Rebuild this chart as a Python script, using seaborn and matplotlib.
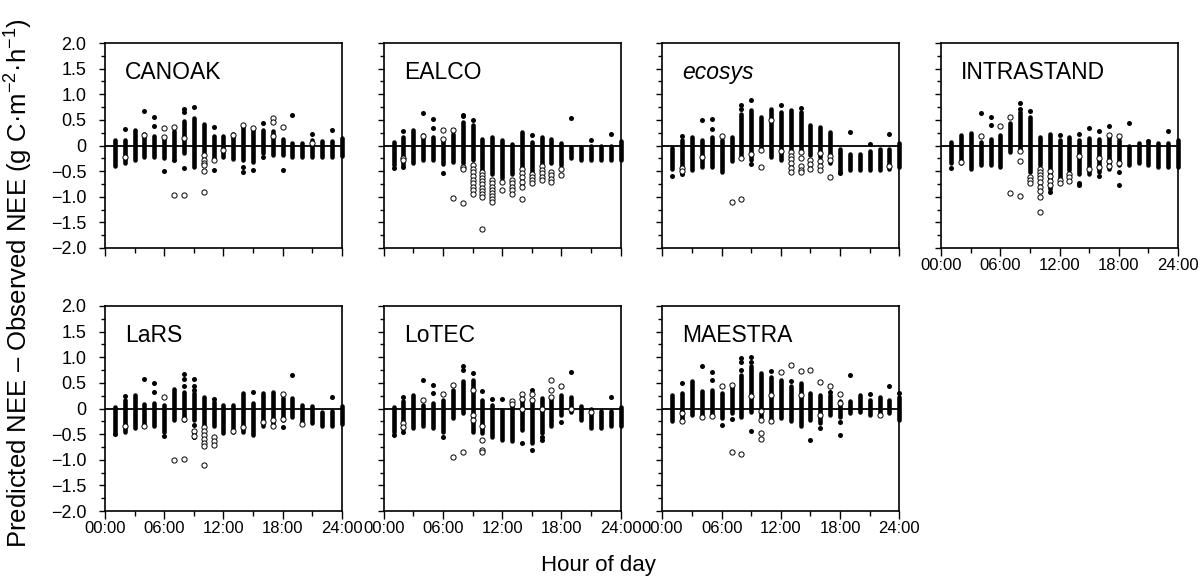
import pandas as pd
import matplotlib
matplotlib.use("Agg")
import matplotlib.pyplot as plt
from matplotlib.ticker import FixedLocator, MultipleLocator
import seaborn as sns

# panels, in reading order
models = ["CANOAK", "EALCO", "ecosys", "INTRASTAND", "LaRS", "LoTEC", "MAESTRA"]
hours = list(range(1, 25))

x_ticks = [0, 6, 12, 18, 24]
x_tick_labels = ["00:00", "06:00", "12:00", "18:00", "24:00"]
y_ticks = [-2.0, -1.5, -1.0, -0.5, 0.0, 0.5, 1.0, 1.5, 2.0]
y_tick_labels = ["\u22122.0", "\u22121.5", "\u22121.0", "\u22120.5", "0", "0.5", "1.0", "1.5", "2.0"]

# dense column of filled symbols per hour (top / bottom), plus the loose symbols
canoak_hi = [0.10, 0.10, 0.30, 0.22, 0.18, 0.14, 0.28, 0.48, 0.53, 0.42, 0.18, 0.18,
             0.22, 0.38, 0.33, 0.30, 0.28, 0.13, 0.05, 0.05, 0.10, 0.08, 0.08, 0.15]
canoak_lo = [-0.40, -0.35, -0.28, -0.22, -0.23, -0.25, -0.25, -0.15, -0.42, -0.12, -0.25, -0.22,
             -0.27, -0.28, -0.33, -0.15, -0.19, -0.19, -0.22, -0.22, -0.22, -0.22, -0.22, -0.20]
canoak_filled = [(2, 0.33), (4, 0.68), (5, 0.55), (5, 0.38), (6, -0.49), (7, -0.29), (8, 0.72),
                 (8, 0.66), (8, -0.44), (9, 0.75), (11, 0.36), (11, -0.47), (14, -0.42), (14, -0.52),
                 (15, -0.47), (16, 0.43), (16, -0.23), (18, -0.48), (19, 0.60), (21, 0.22), (23, 0.30)]
canoak_open = [(2, -0.23), (4, 0.21), (6, 0.34), (6, 0.16), (7, 0.36), (7, -0.97), (8, 0.15),
               (8, -0.97), (10, -0.19), (10, -0.29), (10, -0.34), (10, -0.39), (10, -0.50),
               (10, -0.90), (11, -0.29), (12, -0.08), (13, 0.21), (14, 0.40), (15, 0.34),
               (17, 0.54), (17, 0.46), (17, 0.19), (18, 0.36), (21, 0.05)]

ealco_hi = [0.07, 0.17, 0.30, 0.20, 0.17, 0.10, 0.23, 0.46, 0.40, 0.12, 0.17, 0.10,
            0.02, 0.27, 0.07, 0.17, 0.12, 0.04, -0.03, -0.02, 0.0, 0.0, 0.0, 0.08]
ealco_lo = [-0.38, -0.38, -0.34, -0.29, -0.29, -0.36, -0.33, -0.35, -0.29, -0.48, -0.55, -0.64,
            -0.55, -0.42, -0.51, -0.38, -0.35, -0.38, -0.25, -0.28, -0.28, -0.28, -0.28, -0.28]
ealco_filled = [(1, -0.44), (2, 0.29), (2, -0.42), (4, 0.64), (5, 0.51), (5, 0.35), (6, -0.53),
                (8, 0.59), (8, 0.57), (9, 0.50), (15, 0.21), (19, 0.53), (21, 0.10), (23, 0.23)]
ealco_open = [(2, -0.25), (2, -0.28), (4, 0.19), (6, 0.31), (6, 0.12), (7, 0.31), (7, -1.03),
              (8, -0.42), (8, -0.45), (8, -1.13), (9, -0.38), (9, -0.45), (9, -0.52), (9, -0.60),
              (9, -0.67), (9, -0.74), (9, -0.80), (9, -0.87), (9, -0.94), (10, -0.52), (10, -0.58),
              (10, -0.64), (10, -0.70), (10, -0.76), (10, -0.82), (10, -0.88), (10, -0.94),
              (10, -1.00), (10, -1.62), (11, -0.68), (11, -0.74), (11, -0.80), (11, -0.86),
              (11, -0.92), (11, -0.98), (11, -1.04), (11, -1.10), (12, -0.72), (12, -0.87),
              (13, -0.68), (13, -0.74), (13, -0.80), (13, -0.87), (13, -0.94), (14, -0.46),
              (14, -0.54), (14, -0.62), (14, -0.72), (14, -0.80), (14, -1.05), (15, -0.55),
              (15, -0.62), (15, -0.68), (15, -0.74), (16, -0.40), (16, -0.47), (16, -0.54),
              (16, -0.62), (16, -0.68), (17, -0.52), (17, -0.58), (17, -0.65), (17, -0.71),
              (18, -0.46), (18, -0.58)]

ecosys_hi = [-0.04, 0.10, 0.17, 0.10, 0.17, 0.10, 0.17, 0.62, 0.69, 0.56, 0.72, 0.66,
             0.69, 0.66, 0.40, 0.36, 0.27, -0.06, -0.16, -0.16, -0.10, -0.06, -0.06, 0.04]
ecosys_lo = [-0.45, -0.51, -0.48, -0.42, -0.42, -0.51, -0.30, -0.19, -0.29, -0.03, -0.22, -0.29,
             -0.09, -0.09, -0.19, -0.22, -0.35, -0.51, -0.48, -0.48, -0.48, -0.48, -0.45, -0.42]
ecosys_filled = [(1, -0.60), (2, 0.19), (2, -0.56), (4, 0.49), (5, 0.51), (5, 0.33), (8, 0.79),
                 (8, 0.72), (9, 0.88), (9, -0.37), (12, 0.79), (14, 0.74), (18, -0.53), (19, 0.27),
                 (21, 0.03), (23, 0.23)]
ecosys_open = [(2, -0.43), (2, -0.49), (4, -0.22), (6, 0.18), (7, -1.11), (8, -0.24), (8, -1.05),
               (9, -0.16), (10, -0.09), (10, -0.42), (11, 0.49), (12, -0.10), (13, -0.12),
               (13, -0.20), (13, -0.27), (13, -0.35), (13, -0.43), (13, -0.51), (14, -0.12),
               (14, -0.25), (14, -0.40), (14, -0.47), (14, -0.51), (15, -0.29), (15, -0.37),
               (15, -0.45), (16, -0.15), (16, -0.30), (16, -0.40), (16, -0.47), (17, -0.20),
               (17, -0.28), (17, -0.61), (23, -0.40)]

intrastand_hi = [0.07, 0.20, 0.25, 0.07, 0.13, 0.20, 0.43, 0.66, 0.56, 0.17, 0.23, 0.10,
                 0.17, 0.10, 0.15, 0.13, 0.17, 0.10, 0.0, 0.04, 0.04, 0.04, 0.04, 0.10]
intrastand_lo = [-0.35, -0.35, -0.45, -0.38, -0.38, -0.42, -0.12, -0.09, -0.51, -0.38, -0.84, -0.64,
                 -0.48, -0.55, -0.55, -0.52, -0.45, -0.38, -0.38, -0.35, -0.38, -0.42, -0.42, -0.42]
intrastand_filled = [(1, -0.44), (4, 0.64), (5, 0.56), (5, 0.40), (8, 0.82), (8, 0.72), (9, 0.67),
                     (11, -0.90), (12, 0.20), (14, 0.22), (14, -0.73), (14, -0.78), (15, 0.35),
                     (16, 0.29), (16, -0.60), (17, 0.38), (18, -0.51), (18, -0.77), (19, 0.44),
                     (21, 0.09), (23, 0.29)]
intrastand_open = [(2, -0.33), (4, 0.19), (6, 0.38), (7, 0.56), (7, -0.92), (8, -0.10), (8, -0.30),
                   (8, -0.98), (9, -0.61), (9, -0.67), (9, -0.74), (10, -0.45), (10, -0.52),
                   (10, -0.58), (10, -0.64), (10, -0.72), (10, -0.80), (10, -0.88), (10, -1.00),
                   (10, -1.30), (11, -0.50), (11, -0.60), (11, -0.70), (11, -0.78), (12, -0.68),
                   (12, -0.74), (13, -0.55), (13, -0.62), (13, -0.70), (14, -0.20), (15, -0.45),
                   (16, -0.25), (16, -0.42), (17, 0.21), (17, -0.30), (17, -0.40), (18, 0.18),
                   (18, -0.35)]

lars_hi = [0.03, 0.17, 0.27, 0.08, 0.10, 0.07, 0.38, 0.33, 0.30, 0.23, 0.13, 0.07,
           0.07, 0.30, 0.10, 0.30, 0.33, 0.20, 0.20, 0.07, 0.05, -0.06, -0.05, 0.05]
lars_lo = [-0.45, -0.45, -0.38, -0.35, -0.35, -0.45, -0.22, -0.22, -0.22, -0.35, -0.35, -0.48,
           -0.45, -0.45, -0.51, -0.35, -0.29, -0.22, -0.16, -0.29, -0.29, -0.35, -0.35, -0.30]
lars_filled = [(1, -0.50), (2, 0.25), (4, 0.58), (5, 0.49), (5, 0.33), (6, -0.53), (8, 0.67),
               (8, 0.58), (8, 0.43), (9, 0.58), (9, 0.43), (9, 0.36), (9, -0.32), (9, -0.45),
               (9, -0.55), (11, 0.18), (15, 0.32), (18, -0.36), (19, 0.66), (23, 0.22)]
lars_open = [(2, -0.35), (4, -0.35), (6, 0.23), (7, -1.00), (8, -0.20), (8, -0.98), (9, -0.44),
             (9, -0.53), (10, -0.36), (10, -0.44), (10, -0.52), (10, -0.60), (10, -0.68),
             (10, -0.74), (10, -1.10), (11, -0.55), (11, -0.63), (11, -0.71), (13, -0.44),
             (14, -0.37), (16, -0.27), (17, -0.34), (17, -0.22), (18, 0.28), (18, -0.20),
             (20, -0.30)]

lotec_hi = [0.03, 0.14, 0.27, 0.07, 0.10, 0.17, 0.36, 0.53, 0.56, 0.17, 0.07, -0.03,
            0.14, 0.17, 0.17, 0.20, 0.23, 0.27, 0.23, 0.05, 0.0, -0.05, -0.05, 0.03]
lotec_lo = [-0.45, -0.40, -0.38, -0.35, -0.38, -0.45, -0.19, -0.09, -0.45, -0.48, -0.55, -0.61,
            -0.64, -0.42, -0.68, -0.48, -0.35, -0.12, -0.06, -0.22, -0.38, -0.38, -0.35, -0.35]
lotec_filled = [(1, -0.51), (2, 0.22), (2, -0.46), (4, 0.56), (5, 0.46), (5, 0.30), (6, -0.55),
                (8, 0.82), (8, 0.75), (9, 0.70), (10, 0.35), (11, 0.18), (12, 0.18), (14, -0.68),
                (15, 0.36), (15, -0.81), (16, -0.55), (16, -0.61), (18, -0.27), (19, 0.72),
                (23, 0.22)]
lotec_open = [(2, -0.28), (2, -0.36), (4, 0.17), (6, 0.29), (7, 0.46), (7, -0.95), (8, -0.85),
              (9, 0.36), (9, -0.13), (9, -0.22), (10, -0.35), (10, -0.61), (10, -0.81),
              (10, -0.84), (13, 0.14), (13, 0.08), (14, 0.28), (14, 0.18), (14, 0.0), (15, 0.28),
              (15, 0.17), (16, 0.0), (17, 0.56), (17, 0.36), (17, 0.23), (18, 0.44), (19, 0.0),
              (21, -0.06)]

maestra_hi = [0.27, 0.30, 0.53, 0.35, 0.36, 0.30, 0.43, 0.66, 0.82, 0.70, 0.62, 0.56,
              0.43, 0.49, 0.31, 0.27, 0.27, 0.14, 0.14, 0.27, 0.17, 0.23, 0.17, 0.23]
maestra_lo = [-0.25, -0.22, -0.12, -0.16, -0.12, -0.19, -0.09, -0.16, -0.06, -0.16, -0.25, -0.19,
              -0.25, -0.35, -0.22, -0.29, -0.12, -0.16, -0.09, -0.06, -0.12, -0.12, -0.09, -0.22]
maestra_filled = [(2, 0.49), (4, 0.83), (5, 0.72), (5, 0.56), (6, -0.32), (7, -0.21), (8, 0.98),
                  (8, 0.90), (8, 0.75), (9, 1.00), (9, 0.90), (9, -0.43), (11, 0.73), (13, 0.54),
                  (15, -0.62), (16, -0.38), (17, 0.33), (18, -0.27), (18, -0.51), (19, 0.66),
                  (21, 0.29), (23, 0.44), (24, 0.30)]
maestra_open = [(2, -0.09), (2, -0.25), (4, -0.16), (5, -0.14), (6, 0.43), (7, 0.46), (7, -0.85),
                (8, -0.88), (9, 0.25), (10, -0.05), (10, -0.22), (10, -0.47), (10, -0.60),
                (11, 0.27), (11, -0.25), (12, 0.72), (13, 0.84), (14, 0.73), (14, 0.27),
                (15, 0.75), (16, 0.51), (16, -0.12), (17, 0.43), (18, 0.28), (18, 0.10),
                (22, -0.12)]

panel_data = [
    ("CANOAK", canoak_hi, canoak_lo, canoak_filled, canoak_open),
    ("EALCO", ealco_hi, ealco_lo, ealco_filled, ealco_open),
    ("ecosys", ecosys_hi, ecosys_lo, ecosys_filled, ecosys_open),
    ("INTRASTAND", intrastand_hi, intrastand_lo, intrastand_filled, intrastand_open),
    ("LaRS", lars_hi, lars_lo, lars_filled, lars_open),
    ("LoTEC", lotec_hi, lotec_lo, lotec_filled, lotec_open),
    ("MAESTRA", maestra_hi, maestra_lo, maestra_filled, maestra_open),
]

# tables for seaborn
stack_frames = []
point_frames = []
for name, hi, lo, filled, opn in panel_data:
    stack_frames.append(pd.DataFrame({"model": name, "hour": hours, "lo": lo, "hi": hi}))
    f = pd.DataFrame(filled, columns=["hour", "value"])
    f["kind"] = "filled"
    o = pd.DataFrame(opn, columns=["hour", "value"])
    o["kind"] = "open"
    both = pd.concat([f, o])
    both["model"] = name
    point_frames.append(both)
stacks = pd.concat(stack_frames, ignore_index=True)
points = pd.concat(point_frames, ignore_index=True)

sns.set_theme(style="ticks", rc={
    "axes.edgecolor": "black", "axes.linewidth": 1.2,
    "xtick.color": "black", "ytick.color": "black",
    "text.color": "black", "axes.labelcolor": "black",
})
plt.rcParams["font.family"] = ["Liberation Sans", "DejaVu Sans"]
plt.rcParams["mathtext.fontset"] = "custom"
plt.rcParams["mathtext.rm"] = "Liberation Sans"
plt.rcParams["mathtext.default"] = "regular"

g = sns.FacetGrid(points, col="model", col_order=models, col_wrap=4,
                  height=2.0, aspect=1.15, sharex=True, sharey=True, despine=False)

for i, name in enumerate(models):
    ax = g.axes_dict[name]
    st = stacks[stacks["model"] == name]
    ax.vlines(st["hour"], st["lo"], st["hi"], colors="black", linewidth=3.3,
              capstyle="round", clip_on=False, zorder=2)
    ax.axhline(0, color="black", linewidth=1.3, zorder=3)
    pts = points[points["model"] == name]
    sns.scatterplot(data=pts[pts["kind"] == "filled"], x="hour", y="value", ax=ax,
                    color="black", s=13, linewidth=0, zorder=4, clip_on=False)
    sns.scatterplot(data=pts[pts["kind"] == "open"], x="hour", y="value", ax=ax,
                    color="white", edgecolor="black", s=14, linewidth=0.7, zorder=5)
    ax.set_xlabel("")
    ax.set_ylabel("")
    ax.set_title("")
    ax.text(0.085, 0.855, name, transform=ax.transAxes, fontsize=16.5, va="center",
            style="italic" if name == "ecosys" else "normal")

    ax.set_xlim(0, 24)
    ax.set_ylim(-2, 2)
    ax.set_xticks(x_ticks, x_tick_labels)
    ax.set_yticks(y_ticks, y_tick_labels)
    ax.xaxis.set_minor_locator(FixedLocator([3, 9, 15, 21]))
    ax.yaxis.set_minor_locator(MultipleLocator(0.25))
    ax.tick_params(which="major", direction="out", width=1.0)
    ax.tick_params(axis="x", which="major", length=6, labelsize=12, pad=1)
    ax.tick_params(axis="y", which="major", length=4.5, labelsize=13, pad=9)
    ax.tick_params(axis="x", which="minor", direction="out", length=3.5, width=1.0)
    ax.tick_params(axis="y", which="minor", direction="out", length=3, width=1.0)
    for sp in ax.spines.values():
        sp.set_linewidth(1.2)
    ax.tick_params(labelbottom=(i >= 3), labelleft=(i % 4 == 0))

fig = g.figure
fig.set_size_inches(12.02, 5.79)
fig.subplots_adjust(left=105 / 1202, right=1178 / 1202, top=1 - 43 / 579,
                    bottom=1 - 511 / 579, wspace=42 / 237, hspace=58 / 205)

fig.text(0.016, 0.512, "Predicted NEE \u2013 Observed NEE (g C\u00b7m$^{-2}$\u00b7h$^{-1}$)",
         rotation=90, ha="center", va="center", fontsize=18.5)
fig.text(598 / 1202, 1 - 566 / 579, "Hour of day", ha="center", va="center", fontsize=16)

fig.savefig("out.png", dpi=100)
